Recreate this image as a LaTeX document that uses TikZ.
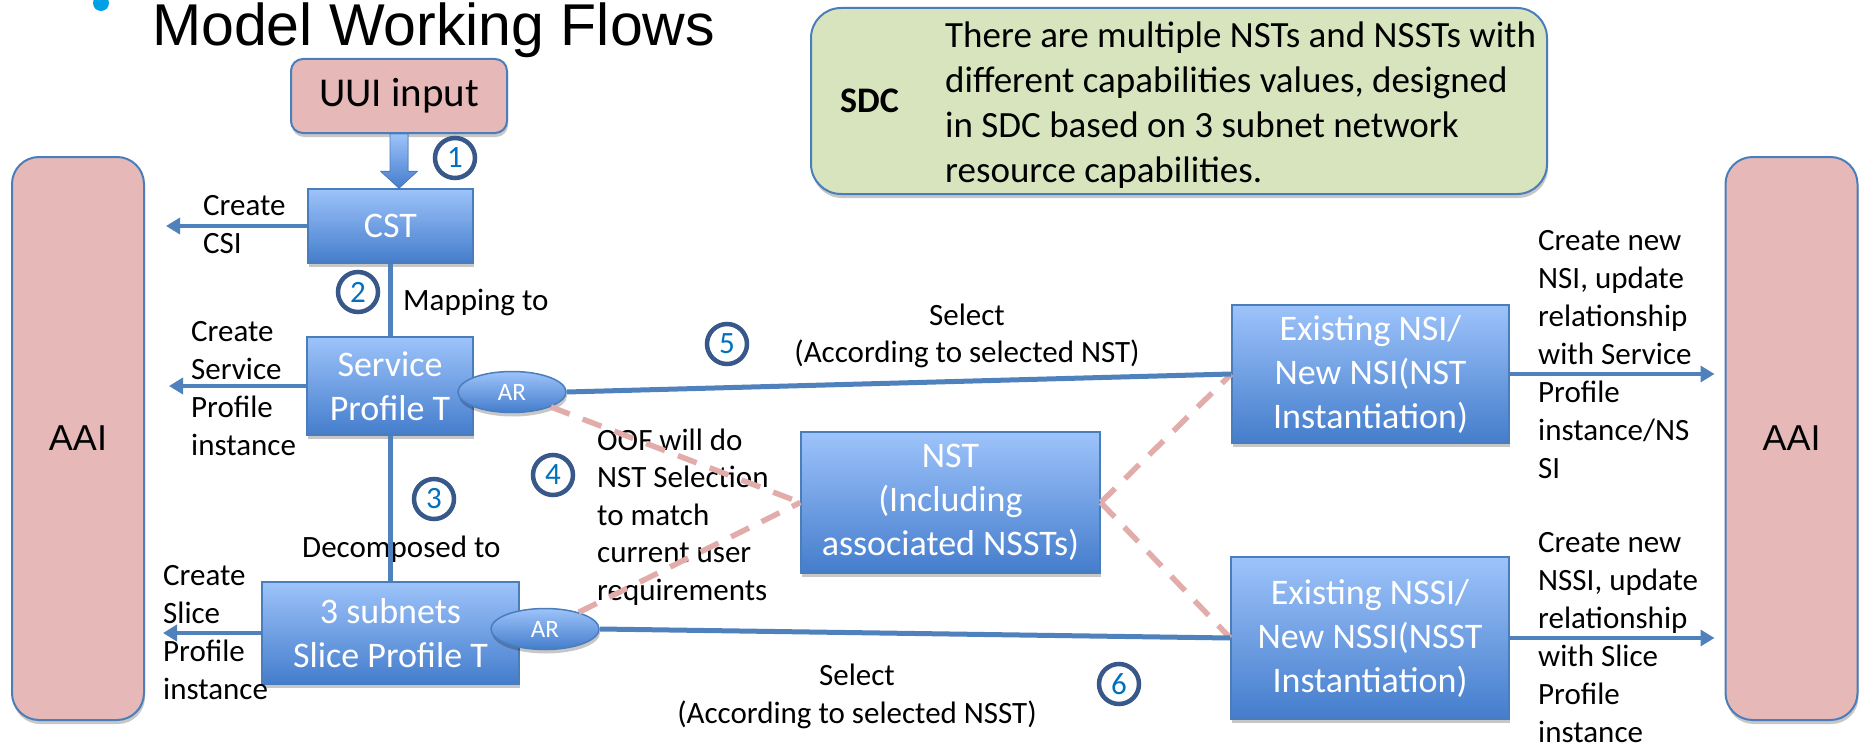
\documentclass[tikz,border=0pt]{standalone}
\usepackage{fontspec}
\setmainfont{Carlito}
\newfontfamily\arialfont{Liberation Sans}
\usetikzlibrary{arrows.meta,shapes.geometric,shadows,calc}
\definecolor{pinkfill}{RGB}{230,185,184}
\definecolor{edgeblue}{RGB}{74,126,187}
\definecolor{gradtop}{RGB}{157,195,250}
\definecolor{gradbot}{RGB}{68,125,204}
\definecolor{sdcfill}{RGB}{215,228,189}
\definecolor{circnavy}{RGB}{56,88,138}
\definecolor{numblue}{RGB}{0,112,192}
\definecolor{linkblue}{RGB}{79,129,189}
\definecolor{dashpink}{RGB}{226,172,170}
\definecolor{bulletblue}{RGB}{0,160,230}
\begin{document}
\begin{tikzpicture}[x=1pt,y=-1pt,
  softshadow/.style={drop shadow={shadow xshift=1pt,shadow yshift=-4pt,opacity=0.22,fill=black}},
  bluebox/.style={rectangle,draw=edgeblue,line width=1.5pt,top color=gradtop,bottom color=gradbot,text=white,align=center,inner sep=0pt,font=\fontsize{36}{44}\selectfont,softshadow},
  aaibox/.style={rectangle,rounded corners=27pt,draw=edgeblue,line width=2pt,fill=pinkfill,minimum width=132pt,minimum height=563pt,font=\arialfont\fontsize{36}{40}\selectfont,softshadow},
  arnode/.style={ellipse,draw=edgeblue,line width=1.5pt,top color=gradtop,bottom color=gradbot,text=white,minimum width=108pt,minimum height=41pt,inner sep=0pt,font=\fontsize{25}{25}\selectfont,softshadow},
  num/.style={circle,draw=circnavy,line width=4.5pt,minimum size=40pt,inner sep=0pt,text=numblue,fill=white,font=\fontsize{31}{31}\selectfont},
  lbl/.style={anchor=base west,align=left,inner sep=0pt,font=\fontsize{31}{38}\selectfont},
  clbl/.style={anchor=base,align=center,inner sep=0pt,font=\fontsize{31}{37.5}\selectfont},
  link/.style={draw=linkblue,line width=5pt},
  linkarrow/.style={draw=linkblue,line width=4.5pt,-{Triangle[length=14pt,width=16pt]}},
  oof/.style={draw=dashpink,line width=5.5pt,dash pattern=on 20pt off 14pt},
]
\useasboundingbox (0,0) rectangle (1864,752);
\fill[white] (0,0) rectangle (1864,752);

% title (cut by the top edge)
\fill[bulletblue] (101,3) circle (8);
\node[anchor=base west,inner sep=0pt,font=\arialfont\fontsize{59}{61}\selectfont] (title) at (152,46) {Model Working Flows};

% side AAI boxes
\node[aaibox] (aaiL) at (78,438.5) {AAI};
\node[aaibox] (aaiR) at (1791.5,438.5) {AAI};

% SDC note
\node[rectangle,rounded corners=30pt,draw=edgeblue,line width=2pt,fill=sdcfill,minimum width=736pt,minimum height=186pt,softshadow] (sdc) at (1179,101) {};
\node[anchor=base west,inner sep=0pt,font=\bfseries\fontsize{36}{36}\selectfont] (sdclabel) at (840,113) {SDC};
\node[lbl,font=\fontsize{37}{45}\selectfont] (sdctext) at (945,182) {There are multiple NSTs and NSSTs with\\different capabilities values, designed\\in SDC based on 3 subnet network\\resource capabilities.};

% main boxes
\node[rectangle,rounded corners=12pt,draw=edgeblue,line width=2pt,fill=pinkfill,minimum width=216pt,minimum height=74pt,font=\fontsize{41}{41}\selectfont,softshadow] (uui) at (399,96) {UUI input};
\node[bluebox,minimum width=165pt,minimum height=74pt] (cst) at (390.5,226) {CST};
\node[bluebox,minimum width=166pt,minimum height=98pt] (spt) at (390,386) {Service\\Profile T};
\node[bluebox,minimum width=257pt,minimum height=102pt] (sub) at (390.5,633) {3 subnets\\Slice Profile T};
\node[bluebox,minimum width=299pt,minimum height=141pt] (nst) at (950.5,502.5) {NST\\(Including\\associated NSSTs)};
\node[bluebox,minimum width=277pt,minimum height=138pt] (nsi) at (1370.5,374) {Existing NSI/\\New NSI(NST\\Instantiation)};
\node[bluebox,minimum width=278pt,minimum height=162pt] (nssi) at (1370,638) {Existing NSSI/\\New NSSI(NSST\\Instantiation)};

% labels (anchor = baseline of the last line)
\node[lbl] (lcsi) at (203,253) {Create\\CSI};
\node[lbl] (lsp) at (191,455) {Create\\Service\\Profile\\instance};
\node[lbl] (lslp) at (163,699) {Create\\Slice\\Profile\\instance};
\node[lbl] (lmap) at (403,310) {Mapping to};
\node[lbl] (ldec) at (302,557) {Decomposed to};
\node[lbl,font=\fontsize{31}{37.5}\selectfont] (loof) at (597,600) {OOF will do\\NST Selection\\to match\\current user\\requirements};
\node[clbl] (lsel1) at (967,362.5) {Select\\(According to selected NST)};
\node[clbl,font=\fontsize{31}{38}\selectfont] (lsel2) at (857,723) {Select\\(According to selected NSST)};
\node[lbl] (lnsi) at (1538,478) {Create new\\NSI, update\\relationship\\with Service\\Profile\\instance/NS\\SI};
\node[lbl] (lnssi) at (1538,742) {Create new\\NSSI, update\\relationship\\with Slice\\Profile\\instance};

% free ends of the arrows into AAI
\coordinate (tcsi) at ($(aaiL.east |- cst.west)+(21,0)$);
\coordinate (tsp) at ($(aaiL.east |- spt.west)+(24,0)$);
\coordinate (tslp) at ($(aaiL.east |- sub.west)+(18,0)$);
\coordinate (tnsi) at ($(aaiR.west |- nsi.east)+(-10,0)$);
\coordinate (tnssi) at ($(aaiR.west |- nssi.east)+(-10,0)$);

% AR nodes and dashed OOF selection lines
\node[arnode] (ar1) at (512,392) {AR};
\node[arnode] (ar2) at (545,629) {AR};
\draw[oof] (ar1) -- (nst.west);
\draw[oof] (ar2) -- (nst.west);
\draw[oof] (nst.east) -- (nsi.west);
\draw[oof] (nst.east) -- (nssi.west);

% connectors
\coordinate (ba) at (uui.south);
\coordinate (bb) at (uui.south |- cst.north);
\fill[top color=gradtop,bottom color=gradbot,draw=edgeblue,line width=0.6pt]
  ($(ba)+(-9,0)$) -- ($(bb)+(-9,-17)$) -- ($(bb)+(-18.5,-17)$) -- (bb)
  -- ($(bb)+(18.5,-17)$) -- ($(bb)+(9,-17)$) -- ($(ba)+(9,0)$) -- cycle;
\draw[link] (cst.south) -- (cst.south |- spt.north);
\draw[link] (spt.south) -- (spt.south |- sub.north);
\draw[linkarrow] (cst.west) -- (tcsi);
\draw[linkarrow] (spt.west) -- (tsp);
\draw[linkarrow] (sub.west) -- (tslp);
\draw[link] (ar1.east) -- (nsi.west);
\draw[link] (ar2.east) -- (nssi.west);
\draw[linkarrow] (nsi.east) -- (tnsi);
\draw[linkarrow] (nssi.east) -- (tnssi);

% step numbers
\node[num] (n1) at (455,158) {1};
\node[num] (n2) at (358,292) {2};
\node[num] (n3) at (434,499) {3};
\node[num] (n4) at (553,475) {4};
\node[num] (n5) at (727,344) {5};
\node[num] (n6) at (1119,684) {6};
\end{tikzpicture}
\end{document}
